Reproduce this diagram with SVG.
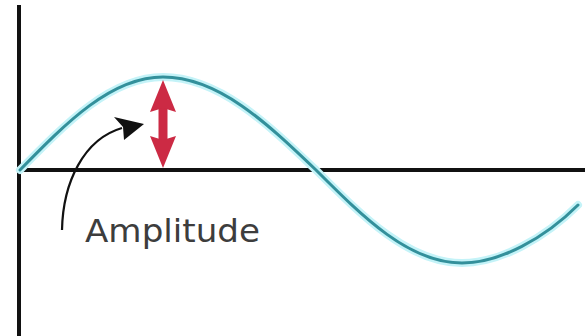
<svg xmlns="http://www.w3.org/2000/svg" width="585" height="336" viewBox="0 0 585 336">
<style>
.axis{stroke:#111;stroke-width:4;fill:none}
.glow{stroke:#c4f3f8;stroke-width:8;fill:none;stroke-linecap:round}
.wave{stroke:#33909b;stroke-width:3;fill:none;stroke-linecap:round}
.amp{fill:#cc2a44}
.pointer{stroke:#111;stroke-width:2.2;fill:none}
.label{font-family:"DejaVu Sans",Verdana,sans-serif;font-size:32px;fill:#3d3d3d}
</style>
<rect width="585" height="336" fill="#fff"/>
<g id="axes">
<line class="axis" x1="19" y1="5" x2="19" y2="336"/>
<line class="axis" x1="17" y1="170" x2="585" y2="170"/>
</g>
<g id="wave">
<path class="glow" d="M20,170 C66.6,122.4 111.2,77 163,77 C218.4,77 266.1,122.4 316,170 C363.6,217.6 409.1,263 462,263 C500,263 545,238 578,205"/>
<path class="wave" d="M20,170 C66.6,122.4 111.2,77 163,77 C218.4,77 266.1,122.4 316,170 C363.6,217.6 409.1,263 462,263 C500,263 545,238 578,205"/>
</g>
<g id="amplitude-arrow">
<rect class="amp" x="158.5" y="104" width="9" height="38"/>
<path class="amp" d="M163,80 L176,112 L163,108 L150,112 Z"/>
<path class="amp" d="M163,168 L176,136 L163,140 L150,136 Z"/>
</g>
<g id="pointer">
<path class="pointer" d="M62,230 C63,182 84,139 122,128"/>
<path fill="#111" d="M144,124 L114,117 L123,127 L124,140 Z"/>
</g>
<g id="label">
<text class="label" x="85" y="242" textLength="175" lengthAdjust="spacingAndGlyphs">Amplitude</text>
</g>
</svg>
